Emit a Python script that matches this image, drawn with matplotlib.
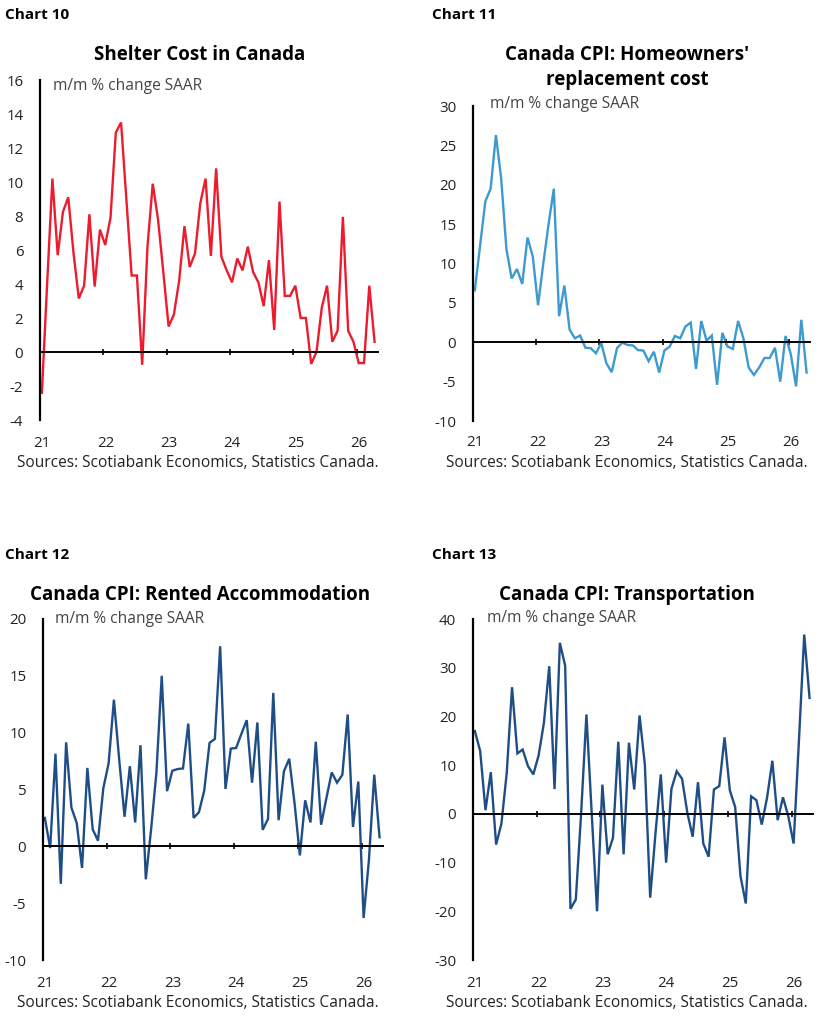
import matplotlib
matplotlib.use("Agg")
import matplotlib.pyplot as plt
import matplotlib.transforms as mtransforms
import numpy as np

plt.rcParams['font.family'] = ['Open Sans', 'DejaVu Sans']

W, H = 828, 1023

# monthly data, Jan 2021 .. Apr 2026
year_labels = ['21', '22', '23', '24', '25', '26']

shelter = [-2.4, 4.0, 10.2, 5.7, 8.25, 9.1, 5.8, 3.15, 3.9, 8.1, 3.85, 7.2,
           6.3, 7.9, 12.9, 13.5, 9.0, 4.5, 4.5, -0.75, 6.2, 9.9, 7.8, 4.7,
           1.5, 2.2, 4.2, 7.4, 5.0, 5.8, 8.75, 10.2, 5.65, 10.8, 5.6, 4.8,
           4.1, 5.5, 4.8, 6.2, 4.7, 4.1, 2.7, 5.4, 1.3, 8.85, 3.3, 3.3,
           3.9, 2.0, 2.0, -0.7, 0.0, 2.6, 3.9, 0.6, 1.25, 7.95, 1.25, 0.6,
           -0.65, -0.65, 3.9, 0.6]

homeowners = [6.6, 12.3, 17.9, 19.5, 26.3, 20.8, 11.8, 8.1, 9.3, 7.4, 13.3, 10.9,
              4.7, 10.0, 15.0, 19.5, 3.3, 7.2, 1.6, 0.5, 0.85, -0.7, -0.75, -1.4,
              -0.1, -2.7, -3.8, -0.75, -0.05, -0.35, -0.4, -1.0, -1.05, -2.4, -1.2, -3.85,
              -1.05, -0.55, 0.8, 0.5, 2.0, 2.5, -3.4, 2.7, 0.2, 0.85, -5.4, 1.2,
              -0.55, -0.85, 2.7, 0.5, -3.2, -4.15, -3.2, -2.0, -2.0, -0.7, -5.0, 0.8,
              -1.5, -5.6, 2.85, -3.85]

rented = [2.5, -0.15, 8.15, -3.3, 9.15, 3.4, 2.05, -1.9, 6.9, 1.5, 0.5, 5.1,
          7.3, 12.9, 7.6, 2.6, 7.05, 2.1, 8.9, -2.9, 1.5, 6.5, 15.0, 4.85,
          6.65, 6.8, 6.85, 10.8, 2.5, 3.0, 4.9, 9.1, 9.45, 17.6, 5.05, 8.6,
          8.65, 9.9, 11.1, 5.6, 10.9, 1.45, 2.4, 13.5, 2.3, 6.6, 7.7, 3.8,
          -0.8, 4.05, 2.1, 9.2, 1.9, 4.25, 6.5, 5.6, 6.3, 11.6, 1.7, 5.7,
          -6.3, -1.2, 6.3, 0.8]

transport = [17.0, 12.9, 0.75, 8.55, -6.3, -2.0, 8.4, 26.0, 12.4, 13.2, 9.8, 8.1,
             12.0, 18.7, 30.3, 5.1, 35.1, 30.4, -19.5, -17.6, 0.0, 20.4, 0.0, -20.0,
             6.0, -8.3, -4.9, 14.8, -8.3, 14.6, 5.0, 20.2, 10.1, -17.2, -4.0, 8.1,
             -10.0, 5.1, 8.75, 7.2, 0.2, -4.7, 6.5, -6.1, -8.8, 5.0, 5.7, 15.7,
             4.8, 1.4, -12.8, -18.4, 3.6, 2.8, -2.2, 3.3, 10.9, -1.3, 3.4, -0.5,
             -6.1, 15.0, 36.8, 23.8]

RED = '#ec1c2e'
LIGHTBLUE = '#3c9ad0'
NAVY = '#1f4e86'
SOURCE = 'Sources: Scotiabank Economics, Statistics Canada.'
SUB = 'm/m % change SAAR'


def fx(x):
    return x / W


def fy(y):
    return 1 - y / H


def make_panel(fig, box, values, color, yticks):
    left, right, top, bottom = box
    ax = fig.add_axes([fx(left), fy(bottom), fx(right - left), (bottom - top) / H])
    months = np.arange(len(values)) + 0.35
    ax.plot(months, values, color=color, lw=1.7, solid_joinstyle='miter')
    ax.set_xlim(0, 64)
    ax.set_ylim(yticks[0], yticks[-1])

    for s in ['top', 'right']:
        ax.spines[s].set_visible(False)
    ax.spines['left'].set_linewidth(1.6)
    ax.spines['bottom'].set_position(('data', 0))
    ax.spines['bottom'].set_linewidth(1.4)

    ax.set_yticks(yticks)
    ax.set_yticklabels([str(t) for t in yticks])
    ax.tick_params(axis='y', length=0, pad=12, labelsize=10.8, labelcolor='#222222')
    ax.set_yticks([yticks[0], yticks[-1]], minor=True)
    ax.tick_params(axis='y', which='minor', length=5, width=1.4, direction='in')

    year_pos = np.arange(len(year_labels)) * 12
    ax.set_xticks(year_pos)
    ax.set_xticklabels([])
    ax.tick_params(axis='x', length=4, width=1.2, direction='inout')

    trans = mtransforms.blended_transform_factory(ax.transData, ax.transAxes)
    for p, lab in zip(year_pos, year_labels):
        ax.text(p + 0.4, -0.068, lab, transform=trans, ha='center', va='center',
                fontsize=10.8, color='#222222')
    return ax


fig = plt.figure(figsize=(W / 100, H / 100), dpi=100)

make_panel(fig, (40, 378, 80, 420), shelter, RED, list(range(-4, 17, 2)))
make_panel(fig, (473, 810, 106, 421), homeowners, LIGHTBLUE, list(range(-10, 31, 5)))
make_panel(fig, (43, 383, 619, 960), rented, NAVY, list(range(-10, 21, 5)))
make_panel(fig, (473, 813, 619, 960), transport, NAVY, list(range(-30, 41, 10)))

# chart numbers
for x, y, lab in [(5, 15, 'Chart 10'), (432, 15, 'Chart 11'),
                  (5, 555, 'Chart 12'), (432, 555, 'Chart 13')]:
    fig.text(fx(x), fy(y), lab, fontsize=11, fontweight='bold', ha='left', va='center')

# titles
fig.text(fx(200), fy(55), 'Shelter Cost in Canada', fontsize=13.5, fontweight='bold',
         ha='center', va='center')
fig.text(fx(627), fy(55), "Canada CPI: Homeowners'", fontsize=13.5, fontweight='bold',
         ha='center', va='center')
fig.text(fx(627), fy(80), 'replacement cost', fontsize=13.5, fontweight='bold',
         ha='center', va='center')
fig.text(fx(200), fy(595), 'Canada CPI: Rented Accommodation', fontsize=13.5,
         fontweight='bold', ha='center', va='center')
fig.text(fx(627), fy(595), 'Canada CPI: Transportation', fontsize=13.5,
         fontweight='bold', ha='center', va='center')

# units
for x, y in [(53, 86), (490, 104), (55, 619), (487, 618)]:
    fig.text(fx(x), fy(y), SUB, fontsize=11.2, color='#444444', ha='left', va='center')

# sources
for x, y in [(17, 463), (446, 463), (17, 1003), (446, 1003)]:
    fig.text(fx(x), fy(y), SOURCE, fontsize=11.2, color='#222222', ha='left', va='center')

fig.savefig('out.png', dpi=100)
